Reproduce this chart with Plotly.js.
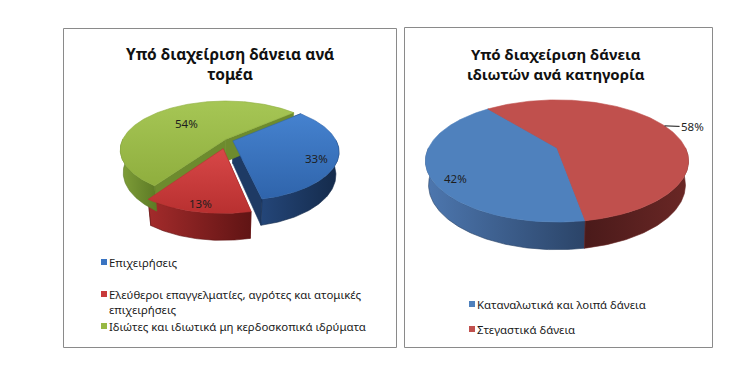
<!DOCTYPE html>
<html><head><meta charset="utf-8">
<script src="https://cdn.plot.ly/plotly-3.0.1.min.js"></script>
<style>html,body{margin:0;padding:0;background:#fff;} #chart{width:739px;height:378px;}</style>
</head><body><div id="chart"></div>
<script>
// ---------------- data ----------------
const leftTitle = 'Υπό διαχείριση δάνεια ανά<br>τομέα';
const leftLabels = ['Επιχειρήσεις', 'Ελεύθεροι επαγγελματίες, αγρότες και ατομικές επιχειρήσεις', 'Ιδιώτες και ιδιωτικά μη κερδοσκοπικά ιδρύματα'];
const leftValues = [33, 13, 54];
const rightTitle = 'Υπό διαχείριση δάνεια<br>ιδιωτών ανά κατηγορία';
const rightLabels = ['Καταναλωτικά και λοιπά δάνεια', 'Στεγαστικά δάνεια'];
const rightValues = [42, 58];

// ---------------- style / geometry ----------------
const leftStyle = {
  cx: 227, cy: 140, S: 103, phi: 27, D: 4.19, H: 0.25, start: 49,
  explode: [0.06, 0.18, 0.02],
  top: [['#4582cf', '#2f64ab'], ['#d84848', '#b83030'], ['#a6c655', '#8fae3e']],
  band: [['#244679', '#142a4a'], ['#a32b2b', '#601414'], ['#809f39', '#5c7a25']],
  wall: ['#1e3a64', '#7a1c1c', '#6d8b2e'],
  labelR: [0.82, 0.85, 0.55], labelShift: [[-2, 5], [0, 3], [0, 0]], outside: [false, false, false],
  legendColors: ['#3a74c2', '#c83a3a', '#97b944']
};
const rightStyle = {
  cx: 557, cy: 148, S: 128.5, phi: 27, D: 4.19, H: 0.21, start: 170,
  explode: [0, 0],
  top: [['#4f81bd', '#4f81bd'], ['#c0504d', '#c0504d']],
  band: [['#4d77af', '#2b4468'], ['#4a1a1a', '#6a2725']],
  wall: ['#3a5f8e', '#8a3432'],
  labelR: [0.82, 1.0], labelShift: [[2, 9], [0, 0]], outside: [false, true],
  legendColors: ['#4f81bd', '#c0504d']
};
const FONT = 'Noto Sans, Open Sans, DejaVu Sans, sans-serif';

function wrap(s, max) {
  const words = s.split(' '); const lines = []; let cur = '';
  words.forEach(w => {
    if (cur && (cur + ' ' + w).length > max) { lines.push(cur); cur = w; }
    else cur = cur ? cur + ' ' + w : w;
  });
  if (cur) lines.push(cur);
  return lines;
}

function makeProj(st) {
  const p = st.phi * Math.PI / 180, s = Math.sin(p), c = Math.cos(p);
  return (X, Y, Z) => {
    const depth = Y * s + Z * c;
    const k = st.D / (st.D - depth);
    return [st.cx + st.S * X * k, st.cy - st.S * (Y * c - Z * s) * k];
  };
}
const rad = d => d * Math.PI / 180;

function buildPie(values, st) {
  const total = values.reduce((a, b) => a + b, 0);
  let a = st.start;
  const slices = values.map((v, i) => { const a0 = a, a1 = a + v / total * 360; a = a1; return {i, a0, a1, mid: (a0 + a1) / 2, frac: v / total}; });
  const P = makeProj(st);
  const walls = [], bands = [], tops = [], labels = [];
  slices.forEach(sl => {
    const e = st.explode[sl.i] || 0;
    const ox = e * Math.sin(rad(sl.mid)), oz = -e * Math.cos(rad(sl.mid));
    const rim = (t, Y) => P(ox + Math.sin(rad(t)), Y, oz - Math.cos(rad(t)));
    const apex = Y => P(ox, Y, oz);
    const n = Math.max(2, Math.ceil(sl.a1 - sl.a0));
    const arc = []; for (let k = 0; k <= n; k++) arc.push(sl.a0 + (sl.a1 - sl.a0) * k / n);
    [sl.a0, sl.a1].forEach(t => {
      walls.push({pts: [apex(0), rim(t, 0), rim(t, -st.H), apex(-st.H), apex(0)], color: st.wall[sl.i]});
    });
    for (const base of [-360, 0, 360]) {
      const lo = Math.max(sl.a0, 90 + base), hi = Math.min(sl.a1, 270 + base);
      if (hi > lo) {
        const m = Math.max(2, Math.ceil(hi - lo)); const ts = [];
        for (let k = 0; k <= m; k++) ts.push(lo + (hi - lo) * k / m);
        const pts = [...ts.map(t => rim(t, 0)), ...ts.slice().reverse().map(t => rim(t, -st.H))];
        pts.push(pts[0]);
        bands.push({pts, grad: st.band[sl.i]});
      }
    }
    tops.push({pts: [apex(0), ...arc.map(t => rim(t, 0)), apex(0)], grad: st.top[sl.i]});
    const r = st.labelR[sl.i];
    labels.push({pos: P(ox + r * Math.sin(rad(sl.mid)), 0, oz - r * Math.cos(rad(sl.mid))),
                 shift: st.labelShift[sl.i],
                 text: Math.round(sl.frac * 100) + '%', outside: st.outside[sl.i]});
  });
  const traces = [];
  const mk = (pts, fill, lineColor, grad) => {
    const t = {type: 'scatter', mode: 'lines', x: pts.map(p => p[0]), y: pts.map(p => p[1]),
      fill: 'toself', fillcolor: fill, line: {color: lineColor, width: 0.6}, hoverinfo: 'skip', showlegend: false};
    if (grad) t.fillgradient = grad;
    return t;
  };
  walls.forEach(w => traces.push(mk(w.pts, w.color, w.color)));
  bands.forEach(b => traces.push(mk(b.pts, b.grad[0], b.grad[1],
    {type: 'horizontal', colorscale: [[0, b.grad[0]], [1, b.grad[1]]]})));
  tops.forEach(tp => traces.push(mk(tp.pts, tp.grad[0], tp.grad[1],
    tp.grad[0] === tp.grad[1] ? null : {type: 'vertical', colorscale: [[0, tp.grad[1]], [1, tp.grad[0]]]})));
  return {traces, labels};
}

const L = buildPie(leftValues, leftStyle);
const R = buildPie(rightValues, rightStyle);

const annotations = [];
const shapes = [];
// panel frames
shapes.push({type: 'rect', xref: 'x', yref: 'y', x0: 63.5, y0: 28.5, x1: 396.5, y1: 347.5, line: {color: '#8a8a8a', width: 1}});
shapes.push({type: 'rect', xref: 'x', yref: 'y', x0: 404.5, y0: 27.5, x1: 712.5, y1: 347.5, line: {color: '#8a8a8a', width: 1}});
// titles
annotations.push({x: 230, y: 64, xref: 'x', yref: 'y', text: leftTitle, showarrow: false,
  font: {family: FONT, size: 15.5, color: '#111', weight: 700}, xanchor: 'center', yanchor: 'middle'});
annotations.push({x: 556, y: 64, xref: 'x', yref: 'y', text: rightTitle, showarrow: false,
  font: {family: FONT, size: 15, color: '#111', weight: 700}, xanchor: 'center', yanchor: 'middle'});
// data labels
const labFont = {family: FONT, size: 11.5, color: '#1e1e1e'};
[...L.labels, ...R.labels].forEach(lb => {
  if (lb.outside) {
    annotations.push({x: lb.pos[0], y: lb.pos[1], xref: 'x', yref: 'y', text: lb.text, showarrow: true,
      arrowhead: 0, arrowwidth: 1, arrowcolor: '#111', ax: 28, ay: 1, font: labFont, standoff: 0});
  } else {
    annotations.push({x: lb.pos[0], y: lb.pos[1], xref: 'x', yref: 'y', text: lb.text, showarrow: false, font: labFont,
      xshift: lb.shift[0], yshift: -lb.shift[1]});
  }
});
// legends
const legFont = {family: FONT, size: 11.4, color: '#1a1a1a'};
const leftLegY = [262, 294, 326];
leftLabels.forEach((lab, i) => {
  const lines = wrap(lab, 46);
  shapes.push({type: 'rect', xref: 'x', yref: 'y', x0: 101, x1: 107, y0: leftLegY[i] - 3, y1: leftLegY[i] + 3, fillcolor: leftStyle.legendColors[i], line: {width: 0}});
  annotations.push({x: 108, y: leftLegY[i] - 7.6, xref: 'x', yref: 'y', text: lines.join('<br>'), showarrow: false, font: legFont,
    xanchor: 'left', yanchor: 'top', align: 'left', borderpad: 0});
});
const rightLegY = [304, 329];
rightLabels.forEach((lab, i) => {
  shapes.push({type: 'rect', xref: 'x', yref: 'y', x0: 469, x1: 475, y0: rightLegY[i] - 3, y1: rightLegY[i] + 3, fillcolor: rightStyle.legendColors[i], line: {width: 0}});
  annotations.push({x: 476, y: rightLegY[i], xref: 'x', yref: 'y', text: lab, showarrow: false, font: legFont, xanchor: 'left', yanchor: 'middle', align: 'left', borderpad: 0});
});

const layout = {
  width: 739, height: 378, margin: {l: 0, r: 0, t: 0, b: 0}, paper_bgcolor: '#fff', plot_bgcolor: '#fff',
  xaxis: {range: [0, 739], visible: false, fixedrange: true},
  yaxis: {range: [378, 0], visible: false, fixedrange: true},
  showlegend: false, shapes, annotations, hovermode: false
};
Plotly.newPlot('chart', [...L.traces, ...R.traces], layout, {displayModeBar: false, staticPlot: true});
</script></body></html>
